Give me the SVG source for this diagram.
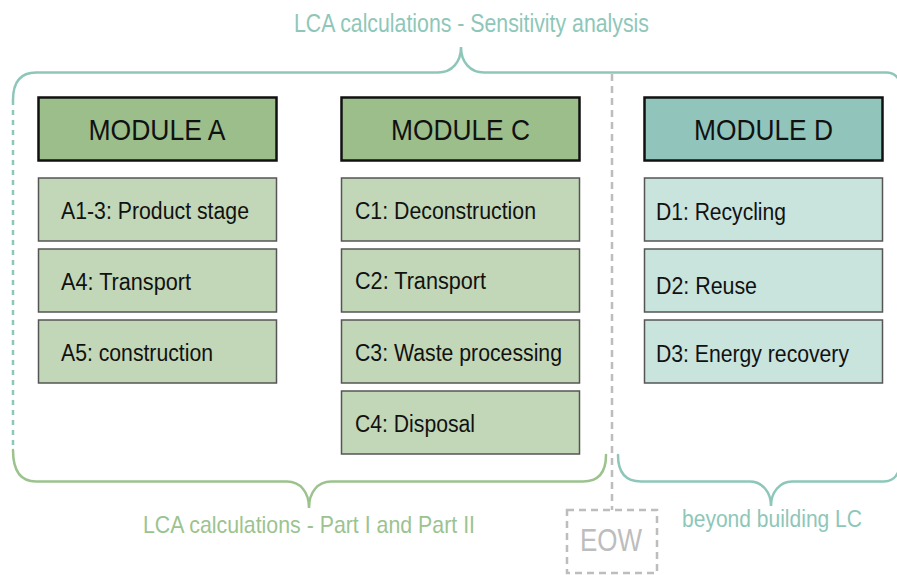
<svg xmlns="http://www.w3.org/2000/svg" width="897" height="575" viewBox="0 0 897 575">
  <style>
    text { font-family: "Liberation Sans", Arial, sans-serif; }
    .hdr { stroke: #111; stroke-width: 2.5; }
    .hdr-g { fill: #9bbe8b; }
    .hdr-t { fill: #91c5bb; }
    .sub { stroke: #555; stroke-width: 1.5; }
    .sub-g { fill: #c2d7b7; }
    .sub-t { fill: #c9e3dd; }
    .htxt { font-size: 30px; fill: #111; text-anchor: middle; }
    .stxt { font-size: 23px; fill: #111; }
    .brace { fill: none; stroke-width: 2.5; stroke-linecap: round; }
    .teal { stroke: #8ec7b9; }
    .green { stroke: #9cc38e; }
    .lbl-teal { fill: #8ec7b9; font-size: 25px; }
    .lbl-green { fill: #9cc38e; font-size: 24px; }
    .gray-dash { fill: none; stroke: #bdbdbd; stroke-width: 2.5; stroke-dasharray: 7 5; }
  </style>

  <!-- Braces, boundary and labels -->
  <g id="connectors">
    <!-- upper brace: sensitivity analysis -->
    <path class="brace teal" d="M 13,100 Q 13,72.5 36,72.5 L 438,72.5 C 452,72.5 461,62 461,47 C 461,62 470,72.5 484,72.5 L 886,72.5 Q 895,72.5 899,80"/>
    <line class="teal" x1="13" y1="100" x2="13" y2="450" stroke-width="2.5" stroke-dasharray="5 5"/>
    <!-- lower left brace: Part I and Part II -->
    <path class="brace green" d="M 13,450 Q 13,481.5 36,481.5 L 287,481.5 C 300,481.5 309,492 309,508 C 309,492 318,481.5 331,481.5 L 583,481.5 Q 606,481.5 606,455"/>
    <!-- lower right brace: beyond building LC -->
    <path class="brace teal" d="M 618,455 Q 618,481.5 641,481.5 L 750,481.5 C 762,481.5 771,492 771,506 C 771,492 780,481.5 792,481.5 L 884,481.5 Q 895,481.5 899,470"/>
    <!-- end-of-waste boundary -->
    <line class="gray-dash" x1="612" y1="74" x2="612" y2="510"/>
  </g>

  <g id="label-sensitivity">
    <text class="lbl-teal" x="294" y="31.5" textLength="355" lengthAdjust="spacingAndGlyphs">LCA calculations - Sensitivity analysis</text>
  </g>
  <g id="label-parts">
    <text class="lbl-green" x="143" y="533" textLength="332" lengthAdjust="spacingAndGlyphs">LCA calculations - Part I and Part II</text>
  </g>
  <g id="label-beyond">
    <text class="lbl-teal" x="682" y="527" font-size="23" style="font-size:23px" textLength="180" lengthAdjust="spacingAndGlyphs">beyond building LC</text>
  </g>
  <g id="eow">
    <rect class="gray-dash" x="567" y="510" width="90" height="63"/>
    <text x="611" y="551" font-size="31" fill="#bdbdbd" text-anchor="middle" textLength="62" lengthAdjust="spacingAndGlyphs">EOW</text>
  </g>

  <!-- Module A -->
  <g id="module-a">
    <rect class="hdr hdr-g" x="38.5" y="97.5" width="238" height="63"/>
    <text class="htxt" x="157" y="140" textLength="137" lengthAdjust="spacingAndGlyphs">MODULE A</text>
  </g>
  <g id="a1-3">
    <rect class="sub sub-g" x="38.5" y="178" width="238" height="63"/>
    <text class="stxt" x="61" y="219" textLength="188" lengthAdjust="spacingAndGlyphs">A1-3: Product stage</text>
  </g>
  <g id="a4">
    <rect class="sub sub-g" x="38.5" y="249" width="238" height="63"/>
    <text class="stxt" x="61" y="290" textLength="130" lengthAdjust="spacingAndGlyphs">A4: Transport</text>
  </g>
  <g id="a5">
    <rect class="sub sub-g" x="38.5" y="320" width="238" height="63"/>
    <text class="stxt" x="61" y="361" textLength="152" lengthAdjust="spacingAndGlyphs">A5: construction</text>
  </g>

  <!-- Module C -->
  <g id="module-c">
    <rect class="hdr hdr-g" x="341.5" y="97.5" width="238" height="63"/>
    <text class="htxt" x="460.5" y="140" textLength="139" lengthAdjust="spacingAndGlyphs">MODULE C</text>
  </g>
  <g id="c1">
    <rect class="sub sub-g" x="341.5" y="178" width="238" height="63"/>
    <text class="stxt" x="355" y="219" textLength="181" lengthAdjust="spacingAndGlyphs">C1: Deconstruction</text>
  </g>
  <g id="c2">
    <rect class="sub sub-g" x="341.5" y="249" width="238" height="63"/>
    <text class="stxt" x="355" y="289" textLength="131" lengthAdjust="spacingAndGlyphs">C2: Transport</text>
  </g>
  <g id="c3">
    <rect class="sub sub-g" x="341.5" y="320" width="238" height="63"/>
    <text class="stxt" x="355" y="361" textLength="207" lengthAdjust="spacingAndGlyphs">C3: Waste processing</text>
  </g>
  <g id="c4">
    <rect class="sub sub-g" x="341.5" y="391" width="238" height="63"/>
    <text class="stxt" x="355" y="432" textLength="120" lengthAdjust="spacingAndGlyphs">C4: Disposal</text>
  </g>

  <!-- Module D -->
  <g id="module-d">
    <rect class="hdr hdr-t" x="644.5" y="97.5" width="238" height="63"/>
    <text class="htxt" x="763.5" y="140" textLength="139" lengthAdjust="spacingAndGlyphs">MODULE D</text>
  </g>
  <g id="d1">
    <rect class="sub sub-t" x="644.5" y="178" width="238" height="63"/>
    <text class="stxt" x="656" y="220" textLength="130" lengthAdjust="spacingAndGlyphs">D1: Recycling</text>
  </g>
  <g id="d2">
    <rect class="sub sub-t" x="644.5" y="249" width="238" height="63"/>
    <text class="stxt" x="656" y="294" textLength="101" lengthAdjust="spacingAndGlyphs">D2: Reuse</text>
  </g>
  <g id="d3">
    <rect class="sub sub-t" x="644.5" y="320" width="238" height="63"/>
    <text class="stxt" x="656" y="362" textLength="193" lengthAdjust="spacingAndGlyphs">D3: Energy recovery</text>
  </g>
</svg>
